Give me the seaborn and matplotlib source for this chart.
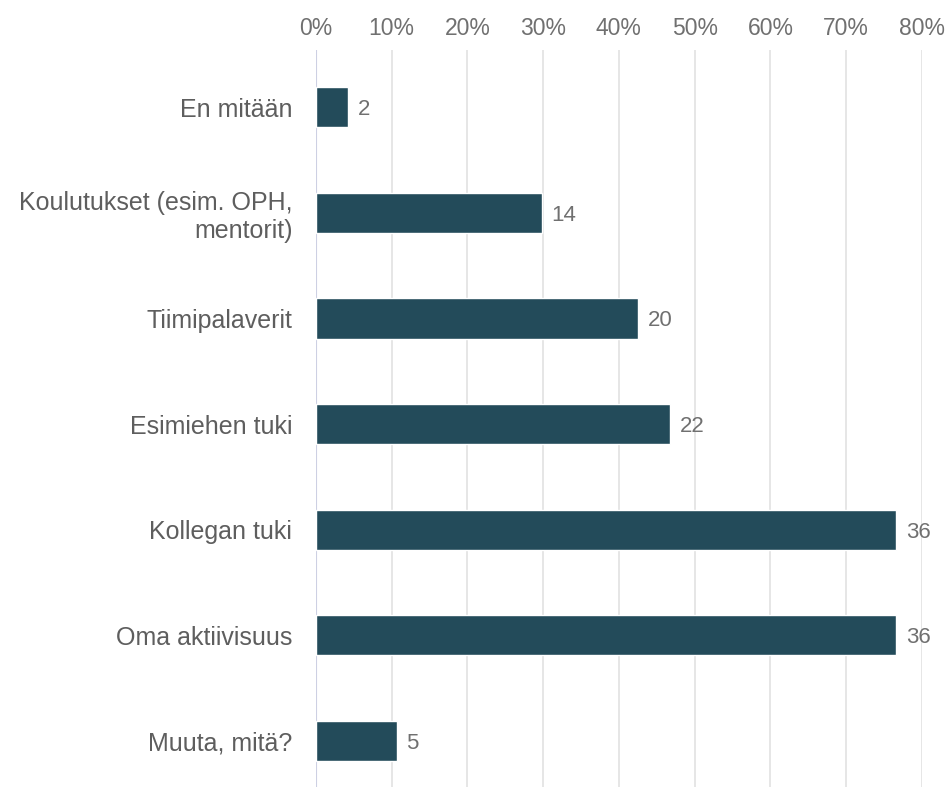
import numpy as np
import pandas as pd
import matplotlib.pyplot as plt
import seaborn as sns
from matplotlib.ticker import PercentFormatter

categories = [
    "En mitään",
    "Koulutukset (esim. OPH,\nmentorit)",
    "Tiimipalaverit",
    "Esimiehen tuki",
    "Kollegan tuki",
    "Oma aktiivisuus",
    "Muuta, mitä?",
]
counts = [2, 14, 20, 22, 36, 36, 5]
respondents = 47

bar_color = "#234b5a"
text_grey = "#707070"

sns.set_theme(style="white")
plt.rcParams["font.family"] = ["Liberation Sans", "DejaVu Sans"]

df = pd.DataFrame({"Vaihtoehto": categories, "Lukumäärä": counts})
df["Osuus"] = df["Lukumäärä"] / respondents

fig = plt.figure(figsize=(9.46, 7.87), dpi=100)
ax = fig.add_axes([0.334, 0.0, 0.6405, 0.937])

sns.barplot(data=df, y="Vaihtoehto", x="Osuus", orient="h", color=bar_color,
            saturation=1, width=0.38, ax=ax, zorder=3)

ax.set_xlim(0, 0.8)
ax.set_ylim(6.435, -0.545)
ax.xaxis.set_major_formatter(PercentFormatter(1.0, decimals=0))
ax.set_xticks(np.arange(0, 0.81, 0.1))
ax.xaxis.tick_top()
ax.tick_params(axis="x", length=0, pad=7, labelsize=16.5, labelcolor=text_grey)
ax.tick_params(axis="y", length=0, pad=17, labelsize=18, labelcolor="#5e5e5e")
ax.grid(axis="x", color="#e2e2e2", linewidth=1.2, zorder=0)
ax.axvline(0, color="#cdd0e3", linewidth=1.5, zorder=1)
for lab in ax.get_yticklabels():
    lab.set_horizontalalignment("right")
    lab.set_multialignment("right")

for i, (c, p) in enumerate(zip(df["Lukumäärä"], df["Osuus"])):
    ax.text(p + 0.013, i, str(c), va="center_baseline", ha="left", fontsize=16, color=text_grey)

ax.set_xlabel("")
ax.set_ylabel("")
for s in ax.spines.values():
    s.set_visible(False)

fig.savefig("out.png", dpi=100, facecolor="white")
